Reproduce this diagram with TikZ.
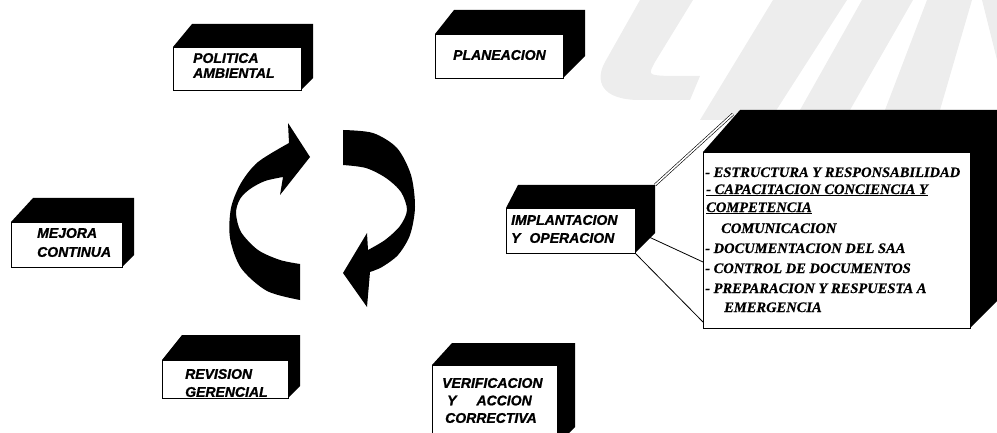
\documentclass[tikz,border=0pt]{standalone}
\usepackage{fontspec}
\setmainfont{Liberation Sans}
\newfontfamily\lblfont{Liberation Sans Bold Italic}[FakeBold=1.2]
\newfontfamily\listfont{Liberation Serif Bold Italic}[FakeBold=0.6]
\usetikzlibrary{calc}
\tikzset{
 frontface/.style={draw=black, line width=0.8pt, fill=white, inner sep=0pt, anchor=north west},
 boxlabel/.style={font=\lblfont\fontsize{14}{#1}\selectfont, inner sep=0pt, anchor=west, align=left},
 boxlabel/.default=18,
 listline/.style={font=\listfont\fontsize{14.5}{16}\selectfont, inner sep=0pt, anchor=base west},
 link/.style={draw=black, line width=0.8pt},
 wmark/.style={fill=black!7},
 cyclearrow/.style={fill=black},
}
\newcommand\solidbox[8]{%
  \fill[black] (#2,#3) -- (#2+#7,#6) coordinate (#1-tl) -- (#4+#8,#6) coordinate (#1-tr) -- (#4+#8,#5-#8) -- (#4,#5) -- cycle;
  \node[frontface, minimum width={(#4-#2)*1pt}, minimum height={(#5-#3)*1pt}] (#1) at (#2,#3) {};
}
\begin{document}
\begin{tikzpicture}[x=1pt,y=-1pt]
\useasboundingbox (0,0) rectangle (997,433);
\clip (0,0) rectangle (997,433);
% watermark
\fill[wmark] (640,0) -- (693,0) -- (655,62) .. controls (648,75) .. (668,76) -- (700,76) -- (690,100) -- (640,100) .. controls (600,100) and (595,80) .. (605,62) -- cycle;
\fill[wmark] (773,0) -- (847,0) -- (770,120) -- (700,120) -- cycle;
\fill[wmark] (862,0) -- (913,0) -- (850,110) -- (800,110) -- cycle;
\fill[wmark] (927,0) -- (972,0) -- (940,110) -- (885,110) -- cycle;
\fill[wmark] (982,0) -- (997,0) -- (997,60) -- cycle;
% cycle arrows
\fill[cyclearrow] (300,300) -- plot[smooth] coordinates {(300,300) (267,291) (241,268) (230,238) (231,208) (241,183) (258,162) (289,143)}
  -- (288,123) -- (310,157) -- (280,195) -- (283,177)
  -- plot[smooth] coordinates {(283,177) (265,181) (250,189) (240,199) (236,213) (241,232) (258,250) (280,260) (300,264)} -- cycle;
\fill[cyclearrow] (343,130) -- plot[smooth] coordinates {(343,130) (373,133) (397,148) (411,175) (415,207) (410,235) (398,255) (382,267) (370,272)}
  -- (367,307) -- (343,273) -- (367,233) -- (368,250)
  -- plot[smooth] coordinates {(368,250) (385,240) (400,226) (407,210) (401,192) (386,178) (366,168) (343,165)} -- cycle;
% boxes
\solidbox{pol}{173}{47}{301}{90}{24}{19}{12}
\solidbox{plan}{435}{34}{563}{78}{10}{19}{22}
\solidbox{mej}{11}{222}{122}{267}{198}{22}{12}
\solidbox{impl}{506}{208}{635}{253}{185}{12}{20}
% connectors
\coordinate (c1end) at (733,114);
\coordinate (c2end) at (703,262);
\coordinate (c3end) at (703,322);
\draw[link, double, double distance=1.6pt, line width=0.6pt] (impl-tr) -- (c1end);
\draw[link] (impl.east) -- (c2end);
\draw[link] (impl.south east) -- (c3end);
\solidbox{big}{703}{152}{970}{328}{110}{37}{27}
\solidbox{rev}{162}{360}{288}{398}{335}{20}{12}
\solidbox{ver}{432}{365}{557}{445}{343}{20}{18}
% labels
\node[boxlabel=15] (t-pol) at (193,65.5) {POLITICA\\AMBIENTAL};
\node[boxlabel] (t-plan) at (453,55) {PLANEACION};
\node[boxlabel=19] (t-mej) at (37,242.5) {MEJORA\\CONTINUA};
\node[boxlabel=18] (t-impl) at (511,229) {IMPLANTACION\\Y\hspace{9pt}OPERACION};
\node[boxlabel=18] (t-rev) at (185,383) {REVISION\\GERENCIAL};
\node[boxlabel=17.5] (t-ver) at (442,400.5) {VERIFICACION\\\hspace*{5pt}Y\hspace{20pt}ACCION\\\hspace*{3pt}CORRECTIVA};
% list
\node[listline] (l1) at (705,177) {- ESTRUCTURA Y RESPONSABILIDAD};
\node[listline] (l2) at (706,194) {\underline{- CAPACITACION CONCIENCIA Y}};
\node[listline] (l3) at (706,212) {\underline{COMPETENCIA}};
\node[listline] (l4) at (721,233) {COMUNICACION};
\node[listline] (l5) at (705,253) {- DOCUMENTACION DEL SAA};
\node[listline] (l6) at (705,273) {- CONTROL DE DOCUMENTOS};
\node[listline] (l7) at (705,293) {- PREPARACION Y RESPUESTA A};
\node[listline] (l8) at (724,312) {EMERGENCIA};
\end{tikzpicture}
\end{document}
